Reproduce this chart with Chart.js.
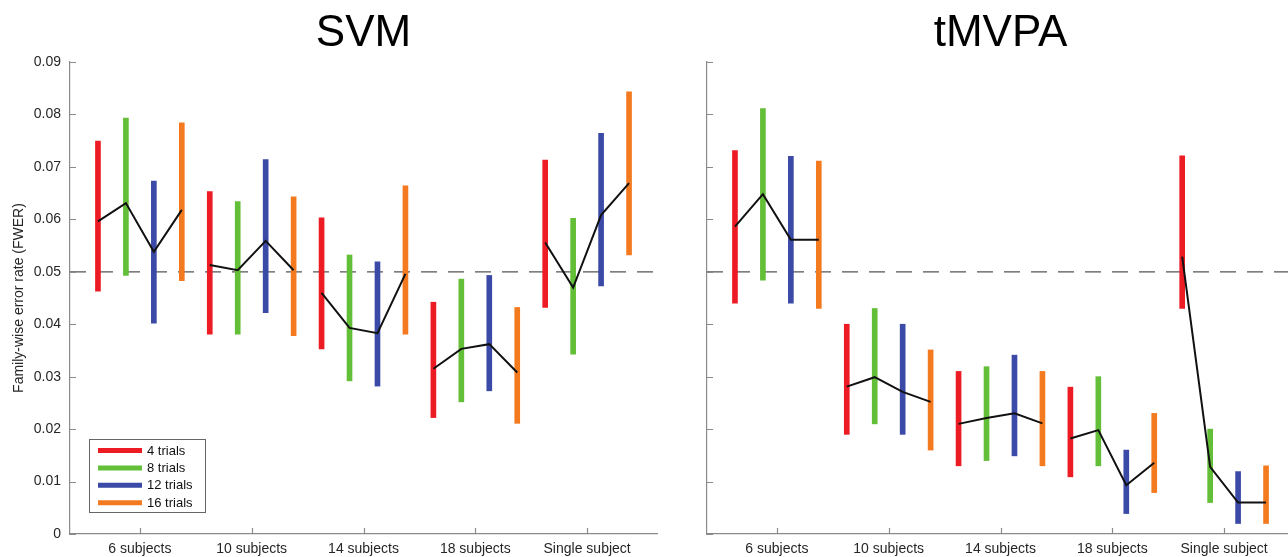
<!DOCTYPE html>
<html><head><meta charset="utf-8">
<script src="https://cdn.jsdelivr.net/npm/chart.js@4.4.1/dist/chart.umd.min.js"></script>
<style>
html,body{margin:0;padding:0;background:#fff;width:1288px;height:557px;overflow:hidden;position:relative;}
#wrapL{position:absolute;left:0;top:0;width:662px;height:557px;}
#wrapR{position:absolute;left:637px;top:0;width:662px;height:557px;}
</style></head><body>
<div id="wrapL"><canvas id="svm" width="662" height="557"></canvas></div>
<div id="wrapR"><canvas id="tmvpa" width="662" height="557"></canvas></div>
<script>
// ---------------- data ----------------
const categories = ['6 subjects', '10 subjects', '14 subjects', '18 subjects', 'Single subject'];
const trialLabels = ['4 trials', '8 trials', '12 trials', '16 trials'];
const chanceLevel = 0.05;
const yTickMin = 0, yTickMax = 0.09, yTickStep = 0.01;

// SVM panel
const svmMean4  = [0.0596, 0.0513, 0.0460, 0.0315, 0.0556];
const svmLow4   = [0.0463, 0.0381, 0.0353, 0.0222, 0.0432];
const svmHigh4  = [0.0749, 0.0653, 0.0603, 0.0442, 0.0713];
const svmMean8  = [0.0631, 0.0503, 0.0393, 0.0353, 0.0470];
const svmLow8   = [0.0493, 0.0381, 0.0292, 0.0252, 0.0343];
const svmHigh8  = [0.0793, 0.0634, 0.0532, 0.0486, 0.0602];
const svmMean12 = [0.0538, 0.0559, 0.0383, 0.0362, 0.0608];
const svmLow12  = [0.0402, 0.0422, 0.0282, 0.0273, 0.0473];
const svmHigh12 = [0.0673, 0.0714, 0.0519, 0.0493, 0.0764];
const svmMean16 = [0.0618, 0.0503, 0.0496, 0.0308, 0.0669];
const svmLow16  = [0.0483, 0.0378, 0.0381, 0.0211, 0.0532];
const svmHigh16 = [0.0784, 0.0643, 0.0664, 0.0432, 0.0843];

// tMVPA panel
const tmMean4  = [0.0586, 0.0281, 0.0210, 0.0182, 0.0529];
const tmLow4   = [0.0440, 0.0190, 0.0130, 0.0109, 0.0430];
const tmHigh4  = [0.0731, 0.0400, 0.0310, 0.0280, 0.0721];
const tmMean8  = [0.0648, 0.0299, 0.0221, 0.0198, 0.0128];
const tmLow8   = [0.0484, 0.0210, 0.0140, 0.0130, 0.0060];
const tmHigh8  = [0.0811, 0.0430, 0.0319, 0.0300, 0.0200];
const tmMean12 = [0.0561, 0.0271, 0.0230, 0.0093, 0.0060];
const tmLow12  = [0.0440, 0.0190, 0.0149, 0.0039, 0.0020];
const tmHigh12 = [0.0720, 0.0400, 0.0341, 0.0160, 0.0119];
const tmMean16 = [0.0561, 0.0252, 0.0211, 0.0136, 0.0060];
const tmLow16  = [0.0430, 0.0160, 0.0130, 0.0079, 0.0020];
const tmHigh16 = [0.0711, 0.0351, 0.0310, 0.0230, 0.0130];

// ---------------- styling ----------------
const seriesColors = ['#ED1C24', '#63BE38', '#3A4AA6', '#F47A20'];
const axisColor = '#8a8a8a';
const textColor = '#262626';
Chart.defaults.font.family = "'Liberation Sans', Arial, Helvetica, sans-serif";
Chart.defaults.color = textColor;

const nTrials = trialLabels.length;
const xMin = -1, xMax = categories.length * nTrials;

function buildDatasets(means, lows, highs) {
  const ds = [];
  ds.push({
    type: 'line', label: 'chance', order: 3,
    data: [{x: xMin, y: chanceLevel}, {x: xMax, y: chanceLevel}],
    borderColor: '#555', borderWidth: 1.3, borderDash: [16, 11],
    pointRadius: 0, fill: false
  });
  for (let t = 0; t < nTrials; t++) {
    ds.push({
      type: 'bar', label: trialLabels[t], order: 2,
      data: categories.map((c, g) => ({x: g * nTrials + t, y: [lows[t][g], highs[t][g]]})),
      backgroundColor: seriesColors[t], borderWidth: 0,
      barThickness: 5, grouped: false
    });
  }
  const pts = [];
  categories.forEach((c, g) => {
    for (let t = 0; t < nTrials; t++) pts.push({x: g * nTrials + t, y: means[t][g]});
    pts.push({x: g * nTrials + nTrials - 0.5, y: null});
  });
  ds.push({
    type: 'line', label: 'mean', order: 1, data: pts,
    borderColor: '#111', borderWidth: 2, pointRadius: 0, spanGaps: false, fill: false,
    tension: 0
  });
  return ds;
}

const decorPlugin = {
  id: 'decor',
  afterDraw(chart, args, opts) {
    const {ctx, chartArea: a, scales: {x, y}} = chart;
    ctx.save();
    ctx.strokeStyle = axisColor;
    ctx.lineWidth = 1.2;
    ctx.beginPath();
    y.ticks.forEach(t => {
      const py = Math.round(y.getPixelForValue(t.value)) + 0.5;
      ctx.moveTo(a.left, py); ctx.lineTo(a.left + 6, py);
    });
    x.ticks.forEach(t => {
      const px = Math.round(x.getPixelForValue(t.value)) + 0.5;
      ctx.moveTo(px, a.bottom); ctx.lineTo(px, a.bottom - 6);
    });
    ctx.stroke();
    if (opts.legend) {
      const bars = chart.data.datasets.filter(d => d.type === 'bar');
      const bx = a.left + 19, by = a.bottom - 95, bw = 116, bh = 73;
      ctx.fillStyle = '#fff';
      ctx.fillRect(bx, by, bw, bh);
      ctx.strokeStyle = '#666';
      ctx.lineWidth = 1;
      ctx.strokeRect(bx + 0.5, by + 0.5, bw, bh);
      ctx.font = "13px 'Liberation Sans', Arial, sans-serif";
      ctx.textBaseline = 'middle';
      ctx.textAlign = 'left';
      bars.forEach((d, i) => {
        const ry = by + 11.5 + i * 17.4;
        ctx.strokeStyle = d.backgroundColor;
        ctx.lineWidth = 5;
        ctx.beginPath(); ctx.moveTo(bx + 9, ry); ctx.lineTo(bx + 53, ry); ctx.stroke();
        ctx.fillStyle = '#111';
        ctx.fillText(d.label, bx + 58, ry + 0.5);
      });
    }
    ctx.restore();
  }
};

function makeChart(id, title, means, lows, highs, showYLabels) {
  return new Chart(document.getElementById(id), {
    type: 'bar',
    data: {datasets: buildDatasets(means, lows, highs)},
    plugins: [decorPlugin],
    options: {
      responsive: false, animation: false,
      layout: {padding: {top: 0, left: 0, right: 5, bottom: 0}},
      plugins: {
        legend: {display: false},
        tooltip: {enabled: false},
        title: {display: true, text: title, fullSize: false, color: '#000',
                font: {size: 44, weight: 'normal'}, padding: {top: 7, bottom: 2.2}},
        decor: {legend: showYLabels}
      },
      scales: {
        x: {
          type: 'linear', min: xMin, max: xMax, offset: false,
          grid: {display: false, drawTicks: false, offset: false},
          border: {display: true, color: axisColor, width: 1.2},
          afterBuildTicks: s => { s.ticks = categories.map((c, g) => ({value: g * nTrials + (nTrials - 1) / 2})); },
          ticks: {callback: (v, i) => categories[i], padding: 7, autoSkip: false, maxRotation: 0,
                  font: {size: 14}, color: textColor},
          afterFit: s => { s.height = 23; }
        },
        y: {
          type: 'linear', min: yTickMin, max: yTickMax,
          grid: {display: false, drawTicks: false},
          border: {display: true, color: axisColor, width: 1.2},
          ticks: {stepSize: yTickStep, padding: 9, font: {size: 14}, color: textColor,
                  callback: v => showYLabels ? (Math.abs(v) < 1e-9 ? '0' : v.toFixed(2)) : ''},
          title: {display: showYLabels, text: 'Family-wise error rate (FWER)', color: textColor,
                  font: {size: 14}, padding: {top: 11, bottom: 0}},
          afterFit: s => { s.width = 70; }
        }
      }
    }
  });
}

makeChart('svm', 'SVM',
  [svmMean4, svmMean8, svmMean12, svmMean16],
  [svmLow4, svmLow8, svmLow12, svmLow16],
  [svmHigh4, svmHigh8, svmHigh12, svmHigh16], true);
makeChart('tmvpa', 'tMVPA',
  [tmMean4, tmMean8, tmMean12, tmMean16],
  [tmLow4, tmLow8, tmLow12, tmLow16],
  [tmHigh4, tmHigh8, tmHigh12, tmHigh16], false);
</script>
</body></html>
